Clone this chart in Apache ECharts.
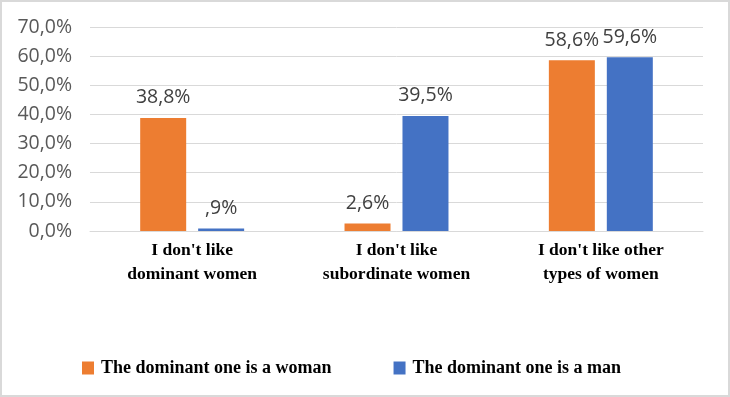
<!DOCTYPE html>
<html>
<head>
<meta charset="utf-8">
<script src="https://cdn.jsdelivr.net/npm/echarts@6/dist/echarts.min.js"></script>
<style>
  html, body { margin: 0; padding: 0; background: #fff; }
  #chart { width: 730px; height: 397px; box-sizing: border-box; border: 2px solid #d9d9d9; }
</style>
</head>
<body>
<div id="chart"></div>
<script>
const categories = ["I don't like\ndominant women", "I don't like\nsubordinate women", "I don't like other\ntypes of women"];
const womanValues = [38.8, 2.6, 58.6];
const manValues = [0.9, 39.5, 59.6];
const seriesNames = ['The dominant one is a woman', 'The dominant one is a man'];

// Excel-style labels: comma decimals, no leading zero (",9%")
function pct(v) {
  let s = v.toFixed(1).replace('.', ',');
  if (s.startsWith('0,') && v !== 0) s = s.slice(1);
  return s + '%';
}

const myChart = echarts.init(document.getElementById('chart'));

const labelStyle = {
  show: true,
  position: 'top',
  distance: 10,
  color: '#404040',
  fontFamily: 'Open Sans',
  fontSize: 19.5,
  formatter: p => pct(p.value)
};

const option = {
  animation: false,
  grid: { left: 88, right: 25, top: 25, bottom: 164 },
  legend: {
    data: seriesNames,
    left: 75,
    top: 352,
    itemWidth: 12,
    itemHeight: 13,
    itemGap: 62,
    icon: 'rect',
    textStyle: {
      fontFamily: 'Liberation Serif',
      fontWeight: 'bold',
      fontSize: 18,
      color: '#000',
      padding: [0, 0, 0, 2]
    }
  },
  xAxis: {
    type: 'category',
    data: categories,
    axisTick: { show: false },
    axisLine: { lineStyle: { color: '#d9d9d9', width: 1 } },
    axisLabel: {
      color: '#000',
      fontFamily: 'Liberation Serif',
      fontWeight: 'bold',
      fontSize: 17.5,
      lineHeight: 24,
      margin: 7
    }
  },
  yAxis: {
    type: 'value',
    min: 0,
    max: 70,
    interval: 10,
    axisLine: { show: false },
    axisTick: { show: false },
    splitLine: { lineStyle: { color: '#d9d9d9' } },
    axisLabel: {
      color: '#595959',
      fontFamily: 'Open Sans',
      fontSize: 19.5,
      margin: 18,
      formatter: v => v.toFixed(1).replace('.', ',') + '%'
    }
  },
  series: [
    {
      name: seriesNames[0],
      type: 'bar',
      data: womanValues,
      barWidth: 46,
      barGap: '26%',
      itemStyle: { color: '#ed7d31' },
      label: labelStyle
    },
    {
      name: seriesNames[1],
      type: 'bar',
      data: manValues,
      barWidth: 46,
      itemStyle: { color: '#4472c4' },
      label: labelStyle
    }
  ]
};

myChart.setOption(option);
window.addEventListener('resize', function() {
  myChart.resize();
});
</script>
</body>
</html>
